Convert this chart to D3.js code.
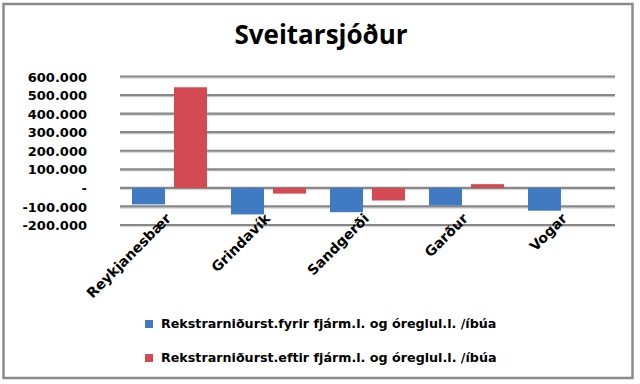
<!DOCTYPE html>
<html><head><meta charset="utf-8">
<script src="https://cdn.jsdelivr.net/npm/d3@7"></script>
<style>html,body{margin:0;padding:0;background:#fff;}svg{display:block;}</style>
</head><body>
<script>
const categories = ["Reykjanesbær", "Grindavík", "Sandgerði", "Garður", "Vogar"];
const seriesNames = ["Rekstrarniðurst.fyrir fjárm.l. og óreglul.l. /íbúa", "Rekstrarniðurst.eftir fjárm.l. og óreglul.l. /íbúa"];
const fyrir = [-89000, -143000, -131000, -95000, -123000];
const eftir = [542000, -31000, -68000, 20000, 0];
const yTicks = [-200000, -100000, 0, 100000, 200000, 300000, 400000, 500000, 600000];
const yTickLabels = ["-200.000", "-100.000", "-", "100.000", "200.000", "300.000", "400.000", "500.000", "600.000"];
const colors = ["#3F7AC3", "#D34A52"];
const title = "Sveitarsjóður";

const W = 640, H = 384;
const svg = d3.select("body").append("svg").attr("width", W).attr("height", H);

// outer border
svg.append("rect").attr("x", 3.5).attr("y", 4).attr("width", 629).attr("height", 374)
  .attr("fill", "#fff").attr("stroke", "#8a8a8a").attr("stroke-width", 2.5);

svg.append("text").attr("x", 321).attr("y", 44).attr("text-anchor", "middle")
  .attr("font-family", "Open Sans").attr("font-weight", "bold").attr("font-size", 26)
  .attr("fill", "#000").text(title);

const y = d3.scaleLinear().domain([-200000, 600000]).range([225, 76.5]);
const x0 = d3.scaleBand().domain(categories).range([120, 615]).padding(0);
const x1 = d3.scaleBand().domain([0, 1]).range([0, x0.bandwidth()]).paddingInner(0.214).paddingOuter(0.286);

// gridlines
const grid = svg.append("g");
yTicks.forEach(t => {
  grid.append("line").attr("x1", 120).attr("x2", 615).attr("y1", y(t) + 1.5).attr("y2", y(t) + 1.5)
    .attr("stroke", "#d9d9d9").attr("stroke-width", 1.5);
  grid.append("line").attr("x1", 120).attr("x2", 615).attr("y1", y(t)).attr("y2", y(t))
    .attr("stroke", "#878787").attr("stroke-width", 2.2);
});

// y axis labels
const yAxis = d3.axisLeft(y).tickValues(yTicks).tickSize(0).tickPadding(0)
  .tickFormat((d, i) => yTickLabels[i]);
const ya = svg.append("g").attr("transform", "translate(87,0)").call(yAxis);
ya.select(".domain").remove();
ya.selectAll("text").attr("font-family", "DejaVu Sans").attr("font-weight", "bold")
  .attr("font-size", 13).attr("fill", "#000").attr("dy", "0.35em");

// bars
const data = [fyrir, eftir];
data.forEach((vals, si) => {
  svg.append("g").selectAll("rect").data(vals).join("rect")
    .attr("x", (d, i) => x0(categories[i]) + x1(si))
    .attr("width", x1.bandwidth())
    .attr("y", d => Math.min(y(d), y(0)))
    .attr("height", d => Math.abs(y(d) - y(0)))
    .attr("fill", colors[si]);
});

// x axis labels
const xa = svg.append("g");
categories.forEach(c => {
  const cx = x0(c) + x0.bandwidth() / 2 - 1;
  xa.append("text").attr("transform", `translate(${cx},216) rotate(-45)`)
    .attr("text-anchor", "end").attr("dy", "0.35em")
    .attr("font-family", "DejaVu Sans").attr("font-weight", "bold").attr("font-size", 14)
    .attr("fill", "#000").text(c);
});

// legend
const leg = svg.append("g");
seriesNames.forEach((s, i) => {
  const ly = 324 + i * 34;
  leg.append("rect").attr("x", 145).attr("y", ly - 4).attr("width", 8).attr("height", 8).attr("fill", colors[i]);
  leg.append("text").attr("x", 161).attr("y", ly).attr("dy", "0.35em")
    .attr("font-family", "DejaVu Sans").attr("font-weight", "bold").attr("font-size", 12.7)
    .attr("fill", "#000").text(s);
});
</script>
</body></html>
